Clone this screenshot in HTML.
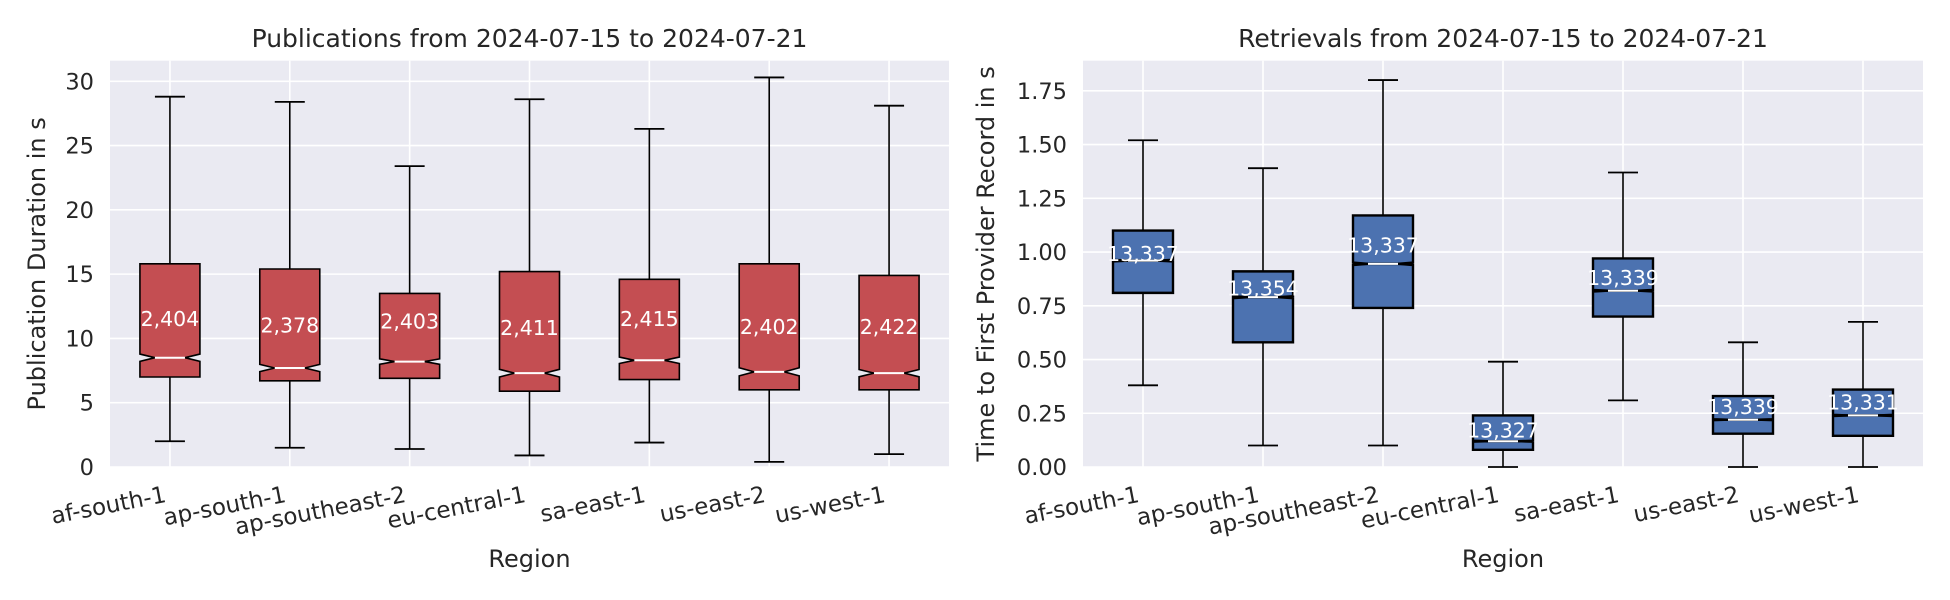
<!DOCTYPE html>
<html><head><meta charset="utf-8">
<style>
html,body{margin:0;padding:0;background:#fff;}
svg{display:block;font-family:"DejaVu Sans","Liberation Sans",sans-serif;}
</style></head>
<body>
<svg id="chart" width="1950" height="600" viewBox="0 0 1950 600" xmlns="http://www.w3.org/2000/svg"></svg>
<script>
const categories = ["af-south-1","ap-south-1","ap-southeast-2","eu-central-1","sa-east-1","us-east-2","us-west-1"];
const pubWhiskerHigh = [28.8,28.4,23.4,28.6,26.3,30.3,28.1];
const pubQ3 = [15.8,15.4,13.5,15.2,14.6,15.8,14.9];
const pubMedian = [8.5,7.7,8.2,7.3,8.3,7.4,7.3];
const pubQ1 = [7.0,6.7,6.9,5.9,6.8,6.0,6.0];
const pubWhiskerLow = [2.0,1.5,1.4,0.9,1.9,0.4,1.0];
const pubCounts = [2404,2378,2403,2411,2415,2402,2422];
const pubLabelY = [11.5,11.0,11.3,10.8,11.5,10.9,10.9];
const pubTicks = [0,5,10,15,20,25,30];
const pubTickLabels = ["0","5","10","15","20","25","30"];

const retWhiskerHigh = [1.52,1.39,1.80,0.49,1.37,0.58,0.675];
const retQ3 = [1.10,0.91,1.17,0.24,0.97,0.33,0.36];
const retMedian = [0.96,0.79,0.945,0.12,0.82,0.22,0.24];
const retQ1 = [0.81,0.58,0.74,0.08,0.70,0.155,0.145];
const retWhiskerLow = [0.38,0.10,0.10,0.0,0.31,0.0,0.0];
const retCounts = [13337,13354,13337,13327,13339,13339,13331];
const retLabelY = [0.99,0.83,1.03,0.17,0.88,0.28,0.30];
const retTicks = [0,0.25,0.5,0.75,1.0,1.25,1.5,1.75];
const retTickLabels = ["0.00","0.25","0.50","0.75","1.00","1.25","1.50","1.75"];

const NS = "http://www.w3.org/2000/svg";
const svg = document.getElementById('chart');
function el(tag, attrs, parent){
  const e = document.createElementNS(NS, tag);
  for (const k in attrs) e.setAttribute(k, attrs[k]);
  (parent||svg).appendChild(e);
  return e;
}
function fmt(n){return n.toLocaleString('en-US');}

function panel(cfg){
  const g = el('g', {});
  
  
  const L=cfg.left, R=cfg.right, T=60.7, B=467;
  const n = categories.length;
  const xs = i => L + (i+0.5)*(R-L)/n;
  const ys = v => B - (v - 0)/(cfg.ymax) * (B-T);
  const bg = el('rect', {x:L,y:T,width:R-L,height:B-T,fill:'#eaeaf2'}, g);
  
  
  cfg.ticks.forEach((t,i)=>{
    const y = ys(t);
    const gl = el('line', {x1:L,x2:R,y1:y,y2:y,stroke:'#fff','stroke-width':1.6}, g);
    
    
    const tl = el('text', {x:L-16,y:y+8,'text-anchor':'end','font-size':22.5,fill:'#262626'}, g);
    tl.textContent = cfg.tickLabels[i];
    
    
  });
  categories.forEach((c,i)=>{
    const x = xs(i);
    const gl = el('line', {x1:x,x2:x,y1:T,y2:B,stroke:'#fff','stroke-width':1.6}, g);
    
    
    const tl = el('text', {x:0,y:0,'text-anchor':'end','font-size':23,fill:'#262626',
      transform:`translate(${x-6},${B+18}) rotate(-11) translate(0,17)`}, g);
    tl.textContent = c;
    
    
  });
  const bw = 60, nw = 30;
  categories.forEach((c,i)=>{
    const x = xs(i);
    const bx = el('g', {}, g);
    
    
    const q1=ys(cfg.q1[i]), q3=ys(cfg.q3[i]), md=ys(cfg.med[i]);
    const hi=ys(cfg.hi[i]), lo=ys(cfg.lo[i]);
    const notch = 1.57*(cfg.q3[i]-cfg.q1[i])/Math.sqrt(cfg.counts[i]);
    const nl = ys(cfg.med[i]-notch), nh = ys(cfg.med[i]+notch);
    el('line',{x1:x,x2:x,y1:q3,y2:hi,stroke:'#000','stroke-width':1.6},bx);
    el('line',{x1:x,x2:x,y1:q1,y2:lo,stroke:'#000','stroke-width':1.6},bx);
    el('line',{x1:x-15,x2:x+15,y1:hi,y2:hi,stroke:'#000','stroke-width':1.8},bx);
    el('line',{x1:x-15,x2:x+15,y1:lo,y2:lo,stroke:'#000','stroke-width':1.8},bx);
    const pts = [[x-bw/2,q1],[x-bw/2,nl],[x-nw/2,md],[x-bw/2,nh],[x-bw/2,q3],
                 [x+bw/2,q3],[x+bw/2,nh],[x+nw/2,md],[x+bw/2,nl],[x+bw/2,q1]];
    const p = el('polygon',{points:pts.map(p=>p.join(',')).join(' '),fill:cfg.color,stroke:'#000','stroke-width':cfg.sw},bx);
    
    
    if (cfg.blackMed) el('line',{x1:x-bw/2,x2:x+bw/2,y1:md,y2:md,stroke:'#000','stroke-width':2.5},bx);
    const m = el('line',{x1:x-nw/2,x2:x+nw/2,y1:md,y2:md,stroke:'#fff','stroke-width':2},bx);
    
    
    const t = el('text',{x:x,y:ys(cfg.labelY[i])+7,'text-anchor':'middle','font-size':20.5,fill:'#fff'},bx);
    t.textContent = fmt(cfg.counts[i]);
    
    
  });
  const title = el('text',{x:(L+R)/2,y:47,'text-anchor':'middle','font-size':25,fill:'#262626'},g);
  title.textContent = cfg.title;
  
  
  const xl = el('text',{x:(L+R)/2,y:567,'text-anchor':'middle','font-size':24,fill:'#262626'},g);
  xl.textContent = 'Region';
  
  
  const yl = el('text',{x:0,y:0,'text-anchor':'middle','font-size':24,fill:'#262626',
    transform:`translate(${cfg.ylx},${(T+B)/2}) rotate(-90)`},g);
  yl.textContent = cfg.ylabel;
  
  
}
panel({name:'publications-panel',left:110,right:949,ymax:31.6,ticks:pubTicks,tickLabels:pubTickLabels,
  hi:pubWhiskerHigh,q3:pubQ3,med:pubMedian,q1:pubQ1,lo:pubWhiskerLow,counts:pubCounts,labelY:pubLabelY,
  color:'#c44e52',sw:1.6,blackMed:false,title:'Publications from 2024-07-15 to 2024-07-21',
  ylabel:'Publication Duration in s',ylx:45});
panel({name:'retrievals-panel',left:1083,right:1923,ymax:1.89,ticks:retTicks,tickLabels:retTickLabels,
  hi:retWhiskerHigh,q3:retQ3,med:retMedian,q1:retQ1,lo:retWhiskerLow,counts:retCounts,labelY:retLabelY,
  color:'#4c72b0',sw:2.4,blackMed:true,title:'Retrievals from 2024-07-15 to 2024-07-21',
  ylabel:'Time to First Provider Record in s',ylx:994});
</script>
</body></html>
